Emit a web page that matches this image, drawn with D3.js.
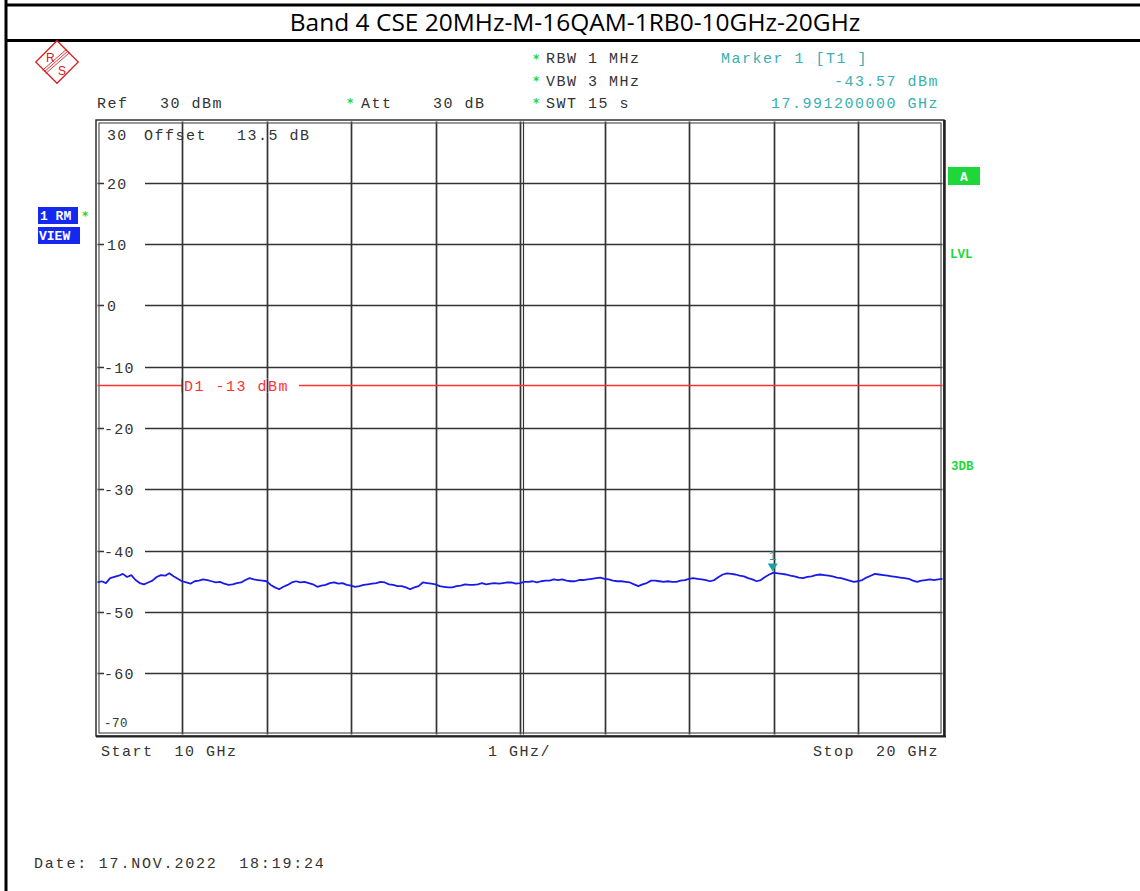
<!DOCTYPE html>
<html><head><meta charset="utf-8">
<script src="https://cdn.jsdelivr.net/npm/d3@7"></script>
<style>
html,body{margin:0;padding:0;background:#fff;}
svg{display:block;}
.mono{font-family:"Courier New","Liberation Mono",monospace;}
</style></head>
<body><svg id="c" width="1140" height="891"></svg>
<script>
// ---------- data ----------
const title = "Band 4 CSE 20MHz-M-16QAM-1RB0-10GHz-20GHz";
const yTicks = [20, 10, 0, -10, -20, -30, -40, -50, -60];
const yTopLabel = 30, yBottomLabel = -70;
const freqStart = 10, freqStop = 20;
const xGridGHz = [11, 12, 13, 14, 15, 16, 17, 18, 19];
const displayLine = -13;
const markerFreq = 17.9912, markerLevel = -43.57;
// trace levels (dBm) at equally spaced sweep points from 10 GHz to 20 GHz
const traceLevel = [
-45.2,-45.0,-45.3,-44.5,-44.3,-44.1,-43.8,-44.3,-44.0,-44.8,
-45.3,-45.5,-45.2,-44.9,-44.3,-44.0,-44.1,-43.7,-44.2,-44.6,
-45.0,-45.2,-45.4,-45.0,-44.9,-44.7,-44.8,-45.0,-45.2,-45.1,
-45.4,-45.6,-45.5,-45.3,-45.2,-44.8,-44.5,-44.7,-44.8,-44.9,
-45.0,-45.6,-46.0,-46.3,-45.9,-45.6,-45.2,-45.0,-45.2,-45.1,
-45.3,-45.5,-45.9,-45.7,-45.6,-45.3,-45.2,-45.4,-45.3,-45.6,
-45.7,-45.9,-45.8,-45.6,-45.5,-45.4,-45.3,-45.1,-45.2,-45.5,
-45.6,-45.8,-45.8,-46.0,-46.3,-46.0,-45.8,-45.2,-45.3,-45.4,
-45.5,-45.8,-45.9,-46.0,-46.0,-45.8,-45.7,-45.5,-45.6,-45.6,
-45.5,-45.3,-45.5,-45.4,-45.3,-45.4,-45.3,-45.2,-45.2,-45.4,
-45.3,-45.1,-45.1,-45.0,-45.2,-45.0,-44.9,-44.9,-44.7,-44.8,
-44.7,-44.9,-45.0,-45.0,-44.8,-44.8,-44.7,-44.6,-44.5,-44.4,
-44.6,-44.7,-44.9,-45.0,-45.0,-45.1,-45.2,-45.5,-45.8,-45.5,
-45.3,-44.9,-44.9,-45.0,-45.1,-45.0,-45.1,-45.1,-44.9,-44.8,
-44.6,-44.5,-44.6,-44.7,-44.8,-45.0,-44.8,-44.3,-43.9,-43.7,
-43.8,-43.9,-44.1,-44.2,-44.5,-44.7,-45.0,-44.8,-44.3,-43.9,
-43.6,-43.7,-43.8,-43.9,-44.1,-44.2,-44.4,-44.5,-44.3,-44.2,
-44.0,-43.9,-44.0,-44.1,-44.2,-44.4,-44.5,-44.7,-44.9,-45.1,
-45.0,-44.8,-44.4,-44.1,-43.8,-43.9,-44.0,-44.1,-44.2,-44.3,
-44.4,-44.5,-44.6,-44.9,-45.1,-44.9,-44.8,-44.7,-44.8,-44.7,
-44.6];

// ---------- drawing ----------
const svg = d3.select("#c");
const L = 97.5, R = 942.5, T = 121.5, B = 734.5;
const x = d3.scaleLinear().domain([freqStart, freqStop]).range([L, R]);
const y = d3.scaleLinear().domain([-70, 30]).range([B, T]);
const idx = d3.scaleLinear().domain([0, traceLevel.length - 1]).range([freqStart, freqStop]);
const txt = "#333";
const teal = "#3aafb0";
const green = "#1ed83a";
const FS = 15, LS = 1.5;

// outer frame
svg.append("line").attr("x1",6).attr("x2",6).attr("y1",0).attr("y2",891).attr("stroke","#000").attr("stroke-width",3);
svg.append("line").attr("x1",6).attr("x2",1140).attr("y1",5).attr("y2",5).attr("stroke","#000").attr("stroke-width",3);
svg.append("line").attr("x1",6).attr("x2",1140).attr("y1",40.5).attr("y2",40.5).attr("stroke","#000").attr("stroke-width",3);
svg.append("text").attr("x",575).attr("y",31).attr("text-anchor","middle")
  .attr("font-family","'Open Sans','Noto Sans',sans-serif").attr("font-size",24.5).attr("fill","#000").text(title);

// R&S logo
const logo = svg.append("g").attr("transform","translate(57,62)");
logo.append("rect").attr("x",-15).attr("y",-15).attr("width",30).attr("height",30)
  .attr("transform","rotate(45)").attr("fill","none").attr("stroke","#d42020").attr("stroke-width",1.3);
[-1.6,0,1.6].forEach(d=>logo.append("line").attr("x1",-13+d).attr("y1",10+d).attr("x2",11+d).attr("y2",-11+d)
  .attr("stroke","#d42020").attr("stroke-width",0.9));
logo.append("text").attr("x",-11).attr("y",0).attr("font-family","'Liberation Sans',sans-serif").attr("font-size",12).attr("fill","#d42020").text("R");
logo.append("text").attr("x",1).attr("y",13).attr("font-family","'Liberation Sans',sans-serif").attr("font-size",12).attr("fill","#d42020").text("S");

function mono(xp, yp, s, opts={}) {
  const t = svg.append("text").attr("class","mono").attr("x",xp).attr("y",yp)
    .attr("font-size",opts.size||FS).attr("letter-spacing",opts.ls!==undefined?opts.ls:LS)
    .attr("fill",opts.fill||txt).attr("xml:space","preserve").style("white-space","pre").text(s);
  if (opts.anchor) t.attr("text-anchor",opts.anchor);
  if (opts.weight) t.attr("font-weight",opts.weight);
  return t;
}
function star(xp, yp) {
  svg.append("text").attr("x",xp).attr("y",yp).attr("font-family","'DejaVu Sans',sans-serif")
    .attr("font-size",12).attr("font-weight","bold").attr("fill",green).text("*");
}

// header
mono(97,108,"Ref   30 dBm");
star(347,107); mono(361,108,"Att"); mono(433,108,"30 dB");
star(533,63); mono(546,63,"RBW 1 MHz");
star(533,85); mono(546,86,"VBW 3 MHz");
star(533,107); mono(546,108,"SWT 15 s");
mono(721,63,"Marker 1 [T1 ]",{fill:teal});
mono(939,86,"-43.57 dBm",{fill:teal,anchor:"end"});
mono(939,108,"17.991200000 GHz",{fill:teal,anchor:"end"});

// left boxes
svg.append("rect").attr("x",38).attr("y",207).attr("width",40).attr("height",17).attr("fill","#1428f0");
svg.append("text").attr("class","mono").attr("x",40).attr("y",220).attr("font-size",13).attr("font-weight","bold")
  .attr("fill","#fff").attr("xml:space","preserve").style("white-space","pre").text("1 RM");
svg.append("rect").attr("x",38).attr("y",227).attr("width",42).attr("height",17).attr("fill","#1428f0");
svg.append("text").attr("class","mono").attr("x",39).attr("y",240).attr("font-size",13).attr("font-weight","bold")
  .attr("fill","#fff").text("VIEW");
star(82,220);

// right labels
svg.append("rect").attr("x",948).attr("y",167).attr("width",32).attr("height",18).attr("fill",green);
svg.append("text").attr("class","mono").attr("x",964).attr("y",181).attr("text-anchor","middle").attr("font-size",13).attr("font-weight","bold").attr("fill","#fff").text("A");
svg.append("text").attr("class","mono").attr("x",950).attr("y",258).attr("font-size",12.5).attr("font-weight","bold").attr("fill",green).text("LVL");
svg.append("text").attr("class","mono").attr("x",951).attr("y",470).attr("font-size",12.5).attr("font-weight","bold").attr("fill",green).text("3DB");

// grid
const grid = svg.append("g");
yTicks.forEach(v=>{
  grid.append("line").attr("x1",L).attr("x2",R).attr("y1",Math.round(y(v))+0.5).attr("y2",Math.round(y(v))+0.5)
    .attr("stroke","#333").attr("stroke-width",1.7);
});
xGridGHz.forEach(v=>{
  grid.append("line").attr("x1",Math.round(x(v))+0.5).attr("x2",Math.round(x(v))+0.5).attr("y1",T).attr("y2",B)
    .attr("stroke","#333").attr("stroke-width",1.7);
});
// centre double line
grid.append("line").attr("x1",Math.round(x(15))+3.5).attr("x2",Math.round(x(15))+3.5).attr("y1",T).attr("y2",B)
  .attr("stroke","#333").attr("stroke-width",1.2);

// plot border (double)
grid.append("rect").attr("x",96).attr("y",120).attr("width",848).attr("height",616).attr("fill","none").attr("stroke","#222").attr("stroke-width",1.4);
grid.append("rect").attr("x",99).attr("y",123).attr("width",842).attr("height",610).attr("fill","none").attr("stroke","#555").attr("stroke-width",1.2);
grid.append("line").attr("x1",944.5).attr("x2",944.5).attr("y1",120).attr("y2",737).attr("stroke","#222").attr("stroke-width",2.5);
grid.append("line").attr("x1",96).attr("x2",946).attr("y1",736.5).attr("y2",736.5).attr("stroke","#222").attr("stroke-width",2);

// y labels
yTicks.forEach(v=>{
  const yp = Math.round(y(v))+0.5;
  svg.append("rect").attr("x",104).attr("y",yp-7).attr("width",41).attr("height",14).attr("fill","#fff");
  mono(v<0?104:107, yp+5, String(v), {ls:1.2});
});
mono(107,140,String(yTopLabel),{ls:1.2});
mono(144,140,"Offset");
mono(237,140,"13.5 dB");
mono(104,727,String(yBottomLabel),{size:12.5,ls:0.5});

// display line
const yD = Math.round(y(displayLine))+0.5;
svg.append("line").attr("x1",L).attr("x2",R).attr("y1",yD).attr("y2",yD).attr("stroke","#ff3030").attr("stroke-width",1.3);
svg.append("rect").attr("x",183).attr("y",yD-7).attr("width",116).attr("height",14).attr("fill","#fff");
mono(184,yD+5,"D1 -13 dBm",{fill:"#ff3030"});
[11,12].forEach(v=>svg.append("line").attr("x1",Math.round(x(v))+0.5).attr("x2",Math.round(x(v))+0.5)
  .attr("y1",yD-7).attr("y2",yD+7).attr("stroke","#333").attr("stroke-width",1.7));

// trace
svg.append("path").datum(traceLevel)
  .attr("d", d3.line().x((d,i)=>x(idx(i))).y(d=>y(d)))
  .attr("fill","none").attr("stroke","#1a1ae8").attr("stroke-width",1.8).attr("stroke-linejoin","bevel");

// marker
const mx = x(markerFreq), my = y(markerLevel);
svg.append("path").attr("d",`M${mx-5},${my-9} L${mx+5},${my-9} L${mx},${my-1} Z`).attr("fill","#1f9fa0");
svg.append("text").attr("class","mono").attr("x",mx).attr("y",my-12).attr("text-anchor","middle").attr("font-size",13).attr("fill","#1f9fa0").text("1");

// bottom labels
mono(101,756,"Start  10 GHz");
mono(488,756,"1 GHz/");
mono(939,756,"Stop  20 GHz",{anchor:"end"});
mono(34,868,"Date: 17.NOV.2022  18:19:24",{size:15,ls:1.8});
</script></body></html>
